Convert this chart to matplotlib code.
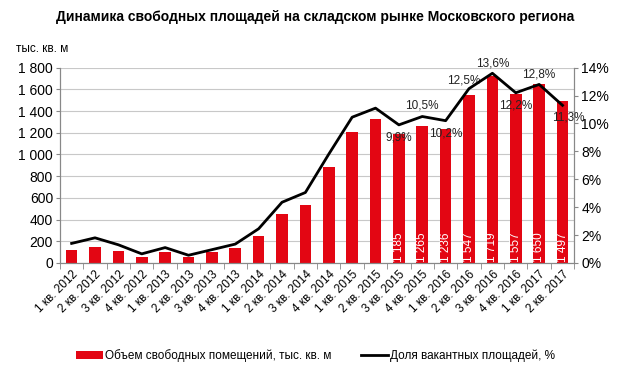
import matplotlib
matplotlib.use("Agg")
import matplotlib.pyplot as plt
from matplotlib.ticker import FuncFormatter, MultipleLocator

plt.rcParams["font.family"] = ["Liberation Sans", "DejaVu Sans"]

quarters = ["1 кв. 2012", "2 кв. 2012", "3 кв. 2012", "4 кв. 2012",
            "1 кв. 2013", "2 кв. 2013", "3 кв. 2013", "4 кв. 2013",
            "1 кв. 2014", "2 кв. 2014", "3 кв. 2014", "4 кв. 2014",
            "1 кв. 2015", "2 кв. 2015", "3 кв. 2015", "4 кв. 2015",
            "1 кв. 2016", "2 кв. 2016", "3 кв. 2016", "4 кв. 2016",
            "1 кв. 2017", "2 кв. 2017"]
volume = [120, 150, 110, 58, 105, 50, 100, 135, 250, 455, 535, 888,
          1205, 1325, 1185, 1265, 1236, 1547, 1719, 1557, 1650, 1497]
vacancy = [1.4, 1.8, 1.3, 0.65, 1.1, 0.55, 0.95, 1.35, 2.45, 4.35, 5.05, 7.8,
           10.45, 11.1, 9.9, 10.5, 10.2, 12.5, 13.6, 12.2, 12.8, 11.3]
# which bars get a value label, and where the % labels sit
bar_label_from = 14
pct_label_from = 14
pct_offsets = {14: (0, -9), 15: (0, 8), 16: (0, -9), 17: (-4, 6),
               18: (0, 7), 19: (0, -9), 20: (0, 7), 21: (4, -9)}

RED = "#e30613"
GRID = "#c8c8c8"

fig = plt.figure(figsize=(6.31, 3.74), dpi=100)
ax = fig.add_axes([0.095, 0.297, 0.815, 0.522])
ax2 = ax.twinx()

x = list(range(len(quarters)))
ax.bar(x, volume, width=0.5, color=RED, zorder=2,
       label="Объем свободных помещений, тыс. кв. м")
for i in range(bar_label_from, len(volume)):
    ax.text(i, 8, f"{volume[i] // 1000} {volume[i] % 1000:03d}", rotation=90,
            ha="center", va="bottom", color="white", fontsize=8.5, zorder=3)

ax2.plot(x, vacancy, color="black", lw=2, zorder=4,
         label="Доля вакантных площадей, %")
for i in range(pct_label_from, len(vacancy)):
    dx, dy = pct_offsets[i]
    ax2.annotate(f"{vacancy[i]:.1f}%".replace(".", ","), (i, vacancy[i]),
                 xytext=(dx, dy), textcoords="offset points",
                 ha="center", va="center", fontsize=8.5, color="#222222")

ax.set_xlim(-0.5, len(quarters) - 0.5)
ax.set_ylim(0, 1800)
ax2.set_ylim(0, 14)
ax.yaxis.set_major_locator(MultipleLocator(200))
ax2.yaxis.set_major_locator(MultipleLocator(2))
ax.yaxis.set_major_formatter(FuncFormatter(
    lambda v, p: f"{int(v) // 1000} {int(v) % 1000:03d}" if v >= 1000 else f"{int(v)}"))
ax2.yaxis.set_major_formatter(FuncFormatter(lambda v, p: f"{int(v)}%"))

ax.set_xticks(x)
ax.set_xticklabels(quarters, rotation=45, ha="right", rotation_mode="anchor", fontsize=8.5)
ax.set_xticks([i + 0.5 for i in range(-1, len(quarters))], minor=True)
ax.tick_params(axis="x", which="major", length=0, pad=4)
ax.tick_params(axis="x", which="minor", length=4, color="#888888")
ax.tick_params(axis="y", labelsize=10, length=3, color="#888888", pad=2)
ax2.tick_params(axis="y", labelsize=10, length=3, color="#888888", pad=2)

ax.grid(axis="y", color=GRID, lw=0.8, zorder=0)
ax.set_axisbelow(True)
for a in (ax, ax2):
    a.spines["top"].set_visible(False)
    for s in ("left", "right", "bottom"):
        a.spines[s].set_color("#888888")
ax.set_zorder(ax2.get_zorder() - 1)
ax.patch.set_visible(False)
ax2.patch.set_visible(False)

fig.text(0.5, 0.955, "Динамика свободных площадей на складском рынке Московского региона",
         ha="center", va="center", fontsize=10, fontweight="bold")
fig.text(0.025, 0.87, "тыс. кв. м", ha="left", va="center", fontsize=8.5)

h1, l1 = ax.get_legend_handles_labels()
h2, l2 = ax2.get_legend_handles_labels()
fig.legend(h1 + h2, l1 + l2, loc="center", bbox_to_anchor=(0.5, 0.05), ncol=2,
           frameon=False, fontsize=8.5, handlelength=2.3, handletextpad=0.2,
           columnspacing=2.5)

fig.savefig("out.png", dpi=100, facecolor="white")
